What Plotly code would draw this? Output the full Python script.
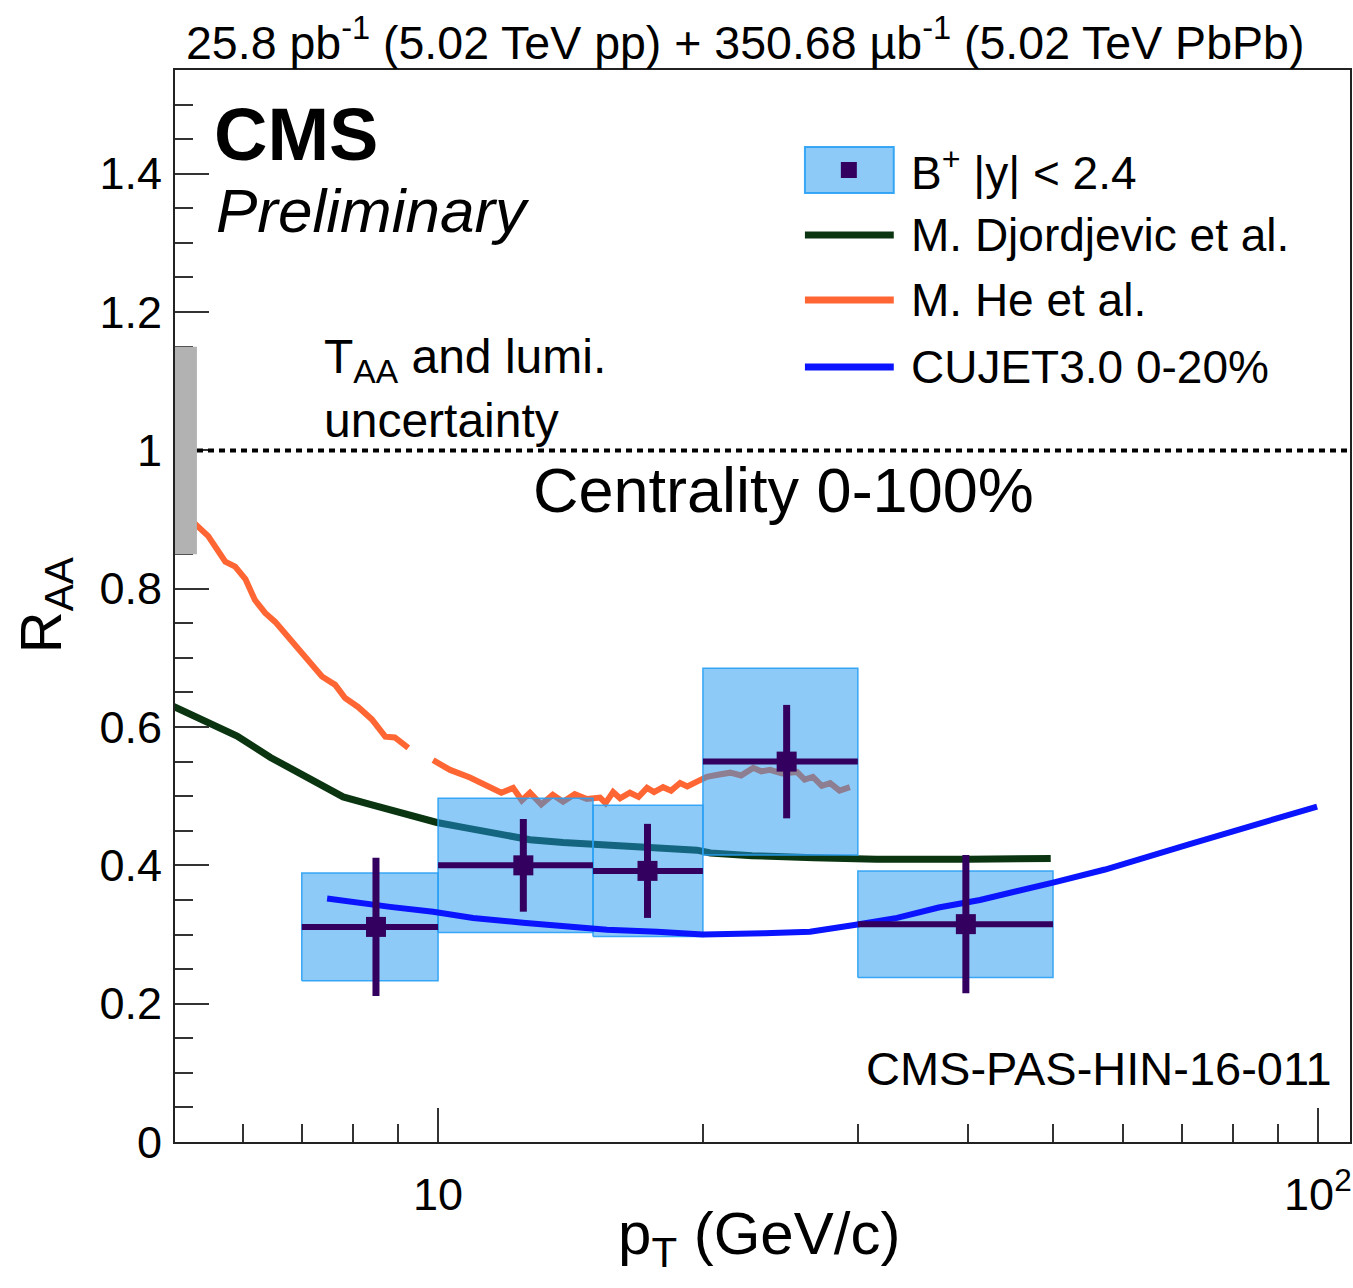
import math
import plotly.graph_objects as go

# ---- B+ nuclear modification factor, 0-100% centrality ----
bin_lo = [7, 10, 15, 20, 30]
bin_hi = [10, 15, 20, 30, 50]
pt_mean = [8.5, 12.5, 17.3, 24.9, 39.8]
raa = [0.311, 0.400, 0.392, 0.550, 0.315]
stat_err = [0.100, 0.067, 0.068, 0.082, 0.100]
syst_err = [0.078, 0.097, 0.095, 0.135, 0.077]

# global T_AA + luminosity uncertainty (drawn at unity)
global_unc = 0.15

# ---- model curves ----
djordjevic_pt = [5.0, 5.41, 5.91, 6.45, 7.02, 7.80, 8.37, 9.12, 9.97, 10.68, 11.67,
                 12.72, 13.87, 15.16, 16.52, 18.02, 19.69, 20.4, 22.75, 26.74, 31.5, 40.0, 49.7]
djordjevic_raa = [0.630, 0.611, 0.587, 0.556, 0.531, 0.499, 0.488, 0.474, 0.462, 0.455, 0.447,
                  0.437, 0.433, 0.430, 0.427, 0.425, 0.422, 0.418, 0.414, 0.411, 0.409, 0.409, 0.410]

he_pt = [5.06, 5.20, 5.48, 5.62, 5.73, 5.88, 6.04, 6.19, 6.36, 6.53, 6.75, 7.12, 7.38, 7.64,
         7.84, 8.11, 8.41, 8.71, 8.93, 9.25, None, 9.87, 10.32, 10.87, 11.46, 11.8, 12.17,
         12.45, 12.72, 13.1, 13.5, 13.87, 14.3, 14.76, 15.28, 15.5, 15.81, 16.1, 16.52, 16.9,
         17.28, 17.6, 18.02, 18.4, 18.84, 19.2, 19.69, 20.21, 20.8, 21.48, 22.1, 22.81, 23.3,
         23.84, 24.6, 25.58, 26.1, 26.67, 27.3, 27.9, 28.6, 29.38]
he_raa = [0.919, 0.903, 0.876, 0.853, 0.839, 0.832, 0.814, 0.784, 0.765, 0.752, 0.731, 0.697,
          0.673, 0.661, 0.642, 0.629, 0.611, 0.586, 0.585, 0.570, None, 0.552, 0.538, 0.527,
          0.514, 0.505, 0.512, 0.494, 0.505, 0.488, 0.502, 0.492, 0.503, 0.496, 0.498, 0.490,
          0.506, 0.497, 0.505, 0.499, 0.512, 0.506, 0.513, 0.508, 0.519, 0.514, 0.521, 0.528,
          0.531, 0.534, 0.530, 0.541, 0.536, 0.538, 0.533, 0.535, 0.524, 0.528, 0.515, 0.519,
          0.508, 0.513]

cujet_pt = [7.48, 8.09, 8.82, 9.87, 10.96, 12.49, 14.24, 15.56, 17.74, 20.0, 23.5, 26.47,
            29.85, 33.24, 37.07, 41.3, 50.0, 57.3, 71.2, 83.7, 99.8]
cujet_raa = [0.352, 0.346, 0.340, 0.333, 0.324, 0.317, 0.310, 0.307, 0.304, 0.300, 0.302,
             0.304, 0.314, 0.324, 0.339, 0.350, 0.375, 0.394, 0.430, 0.456, 0.485]

x_tick_vals = [10, 100]
x_tick_text = ["10", "10<sup>2</sup>"]
x_minor_vals = [6, 7, 8, 9, 20, 30, 40, 50, 60, 70, 80, 90]

# ---- style ----
FONT = "Liberation Sans, Arial, Helvetica, sans-serif"
DATA_COLOR = "#33005f"
BOX_FILL = "rgba(30,150,240,0.5)"
BOX_LINE = "rgba(40,160,245,0.9)"
GREEN = "#0a3510"
ORANGE = "#ff6633"
BLUE = "#0a14ff"

W, H = 1353, 1288
ML, MR, MT, MB = 175, 1, 70, 146
X_LO, X_HI = 0.701, 2.0365
Y_LO, Y_HI = 0.0, 1.55


def px(xp):
    """pixel column -> paper x"""
    return (xp - ML) / (W - ML - MR)


def py(yp):
    """pixel row -> paper y"""
    return (H - MB - yp) / (H - MB - MT)


fig = go.Figure()

# models drawn beneath the data boxes
fig.add_trace(go.Scatter(x=djordjevic_pt, y=djordjevic_raa, mode="lines",
                         line=dict(color=GREEN, width=7), showlegend=False))
fig.add_trace(go.Scatter(x=he_pt, y=he_raa, mode="lines",
                         line=dict(color=ORANGE, width=6), showlegend=False,
                         connectgaps=False))

# systematic boxes
for lo, hi, r, s in zip(bin_lo, bin_hi, raa, syst_err):
    fig.add_trace(go.Scatter(x=[lo, hi, hi, lo, lo], y=[r - s, r - s, r + s, r + s, r - s],
                             mode="lines", fill="toself", fillcolor=BOX_FILL,
                             line=dict(color=BOX_LINE, width=1.5), showlegend=False))

fig.add_trace(go.Scatter(x=cujet_pt, y=cujet_raa, mode="lines",
                         line=dict(color=BLUE, width=6), showlegend=False))

# data points with statistical error bars and bin widths
fig.add_trace(go.Scatter(
    x=pt_mean, y=raa, mode="markers",
    marker=dict(symbol="square", size=20, color=DATA_COLOR),
    error_y=dict(type="data", array=stat_err, color=DATA_COLOR, thickness=7, width=0),
    error_x=dict(type="data", array=[h - m for h, m in zip(bin_hi, pt_mean)],
                 arrayminus=[m - l for l, m in zip(bin_lo, pt_mean)],
                 color=DATA_COLOR, thickness=6, width=0),
    showlegend=False))

shapes = []
# unity reference
shapes.append(dict(type="line", xref="paper", yref="y", x0=0, x1=1, y0=1, y1=1,
                   line=dict(color="black", width=4, dash="6px,5px"), layer="above"))
# global uncertainty band
shapes.append(dict(type="rect", xref="x", yref="y", x0=10 ** X_LO, x1=5.32,
                   y0=1 - global_unc, y1=1 + global_unc,
                   fillcolor="rgb(178,178,178)", line=dict(width=0), layer="above"))

# legend
leg_x0, leg_x1 = px(806), px(895)
shapes.append(dict(type="rect", xref="paper", yref="paper", x0=leg_x0, x1=leg_x1,
                   y0=py(193), y1=py(147), fillcolor=BOX_FILL,
                   line=dict(color=BOX_LINE, width=2)))
shapes.append(dict(type="rect", xref="paper", yref="paper", x0=px(842), x1=px(858),
                   y0=py(178), y1=py(162), fillcolor=DATA_COLOR, line=dict(width=0)))
for row, col in [(235, GREEN), (300, ORANGE), (367, BLUE)]:
    shapes.append(dict(type="line", xref="paper", yref="paper", x0=leg_x0, x1=leg_x1,
                       y0=py(row), y1=py(row), line=dict(color=col, width=7)))

annotations = []


def note(text, x, y, size, xanchor="left", **kw):
    annotations.append(dict(text=text, xref="paper", yref="paper", x=x, y=y,
                            xanchor=xanchor, yanchor="middle", showarrow=False,
                            font=dict(family=FONT, size=size, color="black"), **kw))


note("25.8 pb<sup>-1</sup> (5.02 TeV pp) + 350.68 \u00b5b<sup>-1</sup> (5.02 TeV PbPb)",
     px(184), py(40), 46.5)
note("<b>CMS</b>", px(212), py(135), 74)
note("<i>Preliminary</i>", px(214), py(210), 62)
note("T<sub>AA</sub> and lumi.", px(322), py(360), 48)
note("uncertainty", px(322), py(420), 48)
note("Centrality 0-100%", px(532), py(490), 63)
note("CMS-PAS-HIN-16-011", px(1336), py(1068), 47, xanchor="right")
note("B<sup>+</sup> |y| &lt; 2.4", px(910), py(170), 46)
note("M. Djordjevic et al.", px(910), py(235), 46)
note("M. He et al.", px(910), py(300), 46)
note("CUJET3.0 0-20%", px(910), py(367), 46)
# axis titles
note("p<sub>T</sub> (GeV/c)", px(760), py(1238), 60, xanchor="center")
annotations.append(dict(text="R<sub>AA</sub>", xref="paper", yref="paper",
                        x=px(45), y=py(605), xanchor="center", yanchor="middle",
                        textangle=-90, showarrow=False,
                        font=dict(family=FONT, size=58, color="black")))

fig.update_layout(
    width=W, height=H,
    margin=dict(l=ML, r=MR, t=MT, b=MB, pad=0),
    paper_bgcolor="white", plot_bgcolor="white",
    font=dict(family=FONT, size=45, color="black"),
    shapes=shapes, annotations=annotations,
    xaxis=dict(type="log", range=[X_LO, X_HI], showgrid=False, zeroline=False,
               showline=True, linecolor="#222", linewidth=2, mirror=True,
               ticks="inside", ticklen=34, tickwidth=2, tickcolor="#333",
               tickmode="array", tickvals=x_tick_vals, ticktext=x_tick_text,
               ticklabelstandoff=12,
               minor=dict(ticks="inside", ticklen=18, tickwidth=2, tickcolor="#333",
                          tickmode="array", tickvals=x_minor_vals)),
    yaxis=dict(range=[Y_LO, Y_HI], showgrid=False, zeroline=False,
               showline=True, linecolor="#222", linewidth=2, mirror=True,
               ticks="inside", ticklen=34, tickwidth=2, tickcolor="#333",
               tick0=0, dtick=0.2, ticklabelstandoff=2,
               minor=dict(ticks="inside", ticklen=18, tickwidth=2, tickcolor="#333",
                          dtick=0.05)),
)

fig.write_html("out.html")
